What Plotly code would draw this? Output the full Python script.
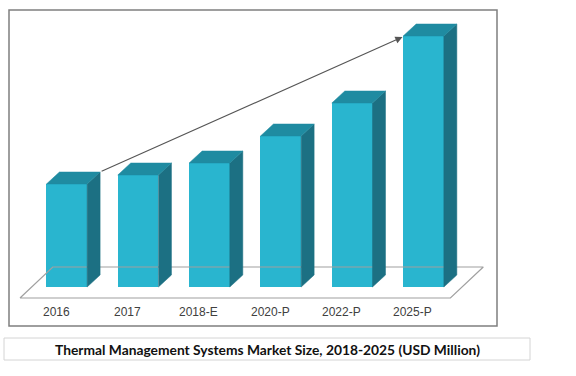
import plotly.graph_objects as go

categories = ["2016", "2017", "2018-E", "2020-P", "2022-P", "2025-P"]
market_size = [103, 112, 124, 151, 184, 251]   # relative bar heights (no axis shown)
title_text = "Thermal Management Systems Market Size, 2018-2025 (USD Million)"

FRONT = "#29B5CF"
TOP = "#1F8BA1"
SIDE = "#1C7083"

n = len(categories)
xs = list(range(n))
bw = 0.57       # bar width in category units
ddx = 0.182     # depth offset x (category units)
ddy = 12        # depth offset y (value units)

fig = go.Figure()

# floor parallelogram
fl_x = [-0.656, n - 1 + 0.377, n - 1 + 0.838, -0.196, -0.656]
fl_y = [-11, -11, 20, 20, -11]
fig.add_trace(go.Scatter(x=fl_x, y=fl_y, mode="lines", line=dict(color="#A0A0A0", width=1.2),
                         hoverinfo="skip", showlegend=False))

for i, v in zip(xs, market_size):
    # side face
    sx = [i + bw / 2, i + bw / 2 + ddx, i + bw / 2 + ddx, i + bw / 2, i + bw / 2]
    sy = [0, ddy, v + ddy, v, 0]
    fig.add_trace(go.Scatter(x=sx, y=sy, fill="toself", fillcolor=SIDE, mode="lines",
                             line=dict(color=SIDE, width=0.5), hoverinfo="skip", showlegend=False))
    # top face
    tx = [i - bw / 2, i - bw / 2 + ddx, i + bw / 2 + ddx, i + bw / 2, i - bw / 2]
    ty = [v, v + ddy, v + ddy, v, v]
    fig.add_trace(go.Scatter(x=tx, y=ty, fill="toself", fillcolor=TOP, mode="lines",
                             line=dict(color=TOP, width=0.5), hoverinfo="skip", showlegend=False))

fig.add_trace(go.Bar(x=xs, y=market_size, width=bw, marker=dict(color=FRONT, line=dict(width=0)),
                     showlegend=False, hoverinfo="skip"))

# category labels on the floor front
for i, c in zip(xs, categories):
    fig.add_annotation(x=i - 0.15, y=-25, xref="x", yref="y", text=c, showarrow=False,
                       font=dict(family="Liberation Sans", size=12, color="#404040"),
                       xanchor="center", yanchor="middle")

# trend arrow from top-back corner of first bar to top-front corner of last bar
fig.add_annotation(x=n - 1 - bw / 2 - 0.01, y=market_size[-1] - 1, ax=0 + bw / 2 + ddx, ay=market_size[0] + ddy,
                   xref="x", yref="y", axref="x", ayref="y", showarrow=True, arrowhead=2,
                   arrowsize=1.3, arrowwidth=1.1, arrowcolor="#555555", text="")

L, W, T, H = 9, 488, 10, 316
def px(xp):
    return (xp - L) / W
def py(yp):
    return (T + H - yp) / H

fig.update_layout(
    width=576, height=376,
    margin=dict(l=L, r=576 - L - W, t=T, b=376 - T - H),
    paper_bgcolor="white", plot_bgcolor="white",
    bargap=0,
    xaxis=dict(range=[-0.81, 6.03], showgrid=False, zeroline=False, showline=False,
               showticklabels=False, fixedrange=True),
    yaxis=dict(range=[-39, 277], showgrid=False, zeroline=False, showline=False,
               showticklabels=False, fixedrange=True),
    shapes=[
        dict(type="rect", xref="paper", yref="paper", x0=0, x1=1, y0=0, y1=1,
             line=dict(color="#7F7F7F", width=1.5), layer="above"),
        dict(type="rect", xref="paper", yref="paper",
             x0=px(4), x1=px(530), y0=py(360), y1=py(338),
             line=dict(color="#D4D4D4", width=1)),
    ],
)
fig.add_annotation(text="<b>" + title_text + "</b>", xref="paper", yref="paper",
                   x=px(267), y=py(349), showarrow=False,
                   font=dict(family="Lato", size=13.8, color="#111111"), xanchor="center", yanchor="middle")

fig.write_html("out.html", config={"displayModeBar": False},
               post_script="document.body.style.margin='0';")
